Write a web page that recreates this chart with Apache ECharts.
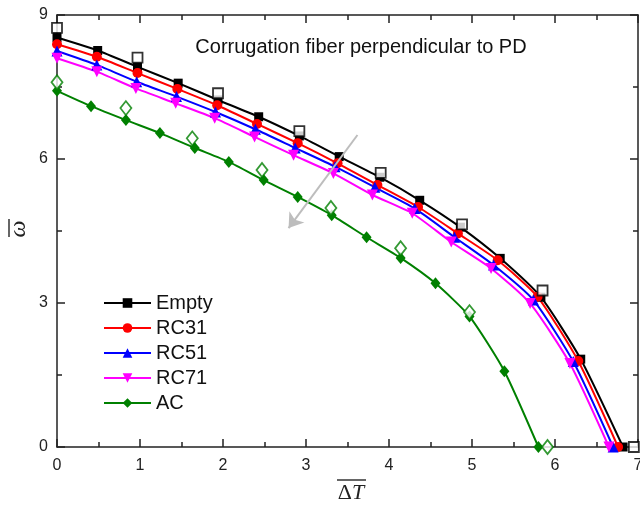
<!DOCTYPE html>
<html>
<head>
<meta charset="utf-8">
<script src="https://cdn.jsdelivr.net/npm/echarts@6/dist/echarts.min.js"></script>
<style>html,body{margin:0;padding:0;background:#fff;}#c{width:640px;height:507px;}</style>
</head>
<body>
<div id="c"></div>
<script>
// ---- data ----
const emptyX = [0, 0.49, 0.97, 1.46, 1.94, 2.43, 2.92, 3.40, 3.89, 4.37, 4.86, 5.34, 5.83, 6.31, 6.82];
const emptyY = [8.53, 8.26, 7.92, 7.58, 7.23, 6.88, 6.48, 6.05, 5.62, 5.14, 4.58, 3.93, 3.12, 1.83, 0];
const rc31X = [0, 0.48, 0.97, 1.45, 1.93, 2.41, 2.90, 3.38, 3.86, 4.35, 4.83, 5.31, 5.79, 6.28, 6.76];
const rc31Y = [8.39, 8.13, 7.79, 7.46, 7.12, 6.73, 6.33, 5.91, 5.46, 5.00, 4.45, 3.89, 3.13, 1.79, 0];
const rc51X = [0, 0.48, 0.96, 1.44, 1.91, 2.39, 2.87, 3.35, 3.83, 4.31, 4.79, 5.26, 5.74, 6.22, 6.70];
const rc51Y = [8.25, 7.96, 7.61, 7.30, 6.98, 6.62, 6.23, 5.84, 5.41, 4.97, 4.37, 3.79, 3.06, 1.78, 0];
const rc71X = [0, 0.48, 0.95, 1.43, 1.90, 2.38, 2.85, 3.33, 3.80, 4.28, 4.75, 5.23, 5.70, 6.18, 6.65];
const rc71Y = [8.10, 7.82, 7.47, 7.16, 6.85, 6.46, 6.08, 5.70, 5.25, 4.87, 4.27, 3.72, 2.99, 1.74, 0];
const acX = [0, 0.41, 0.83, 1.24, 1.66, 2.07, 2.49, 2.90, 3.31, 3.73, 4.14, 4.56, 4.97, 5.39, 5.80];
const acY = [7.42, 7.10, 6.81, 6.54, 6.23, 5.94, 5.56, 5.21, 4.83, 4.37, 3.94, 3.41, 2.72, 1.58, 0];
// open symbols (reference results, not in legend)
const emptyOpenX = [0, 0.97, 1.94, 2.92, 3.90, 4.88, 5.85, 6.95];
const emptyOpenY = [8.73, 8.11, 7.37, 6.58, 5.71, 4.64, 3.26, 0];
const acOpenX = [0, 0.83, 1.63, 2.47, 3.30, 4.14, 4.97, 5.91];
const acOpenY = [7.60, 7.06, 6.43, 5.77, 4.98, 4.14, 2.81, 0];
// arrow (data coords)
const arrowFrom = [3.62, 6.50];
const arrowTo = [2.79, 4.56];
const seriesNames = ['Empty', 'RC31', 'RC51', 'RC71', 'AC'];
const xTicks = {min: 0, max: 7, interval: 1};
const yTicks = {min: 0, max: 9, interval: 3};
const titleText = 'Corrugation fiber perpendicular to PD';

const zip = (xs, ys) => xs.map((x, i) => [x, ys[i]]);
const SANS = '"Liberation Sans", Arial, sans-serif';
const SERIF = '"Liberation Serif", "Times New Roman", serif';

function lineSeries(name, xs, ys, color, symbol, size, rotate) {
  return {
    name, type: 'line', data: zip(xs, ys),
    smooth: 0.2,
    symbol, symbolSize: size, symbolRotate: rotate || 0, showSymbol: true,
    lineStyle: {color, width: 2},
    itemStyle: {color, borderWidth: 0},
    z: 3
  };
}

const axisCommon = (t) => ({
  type: 'value', min: t.min, max: t.max, interval: t.interval,
  axisLine: {show: true, onZero: false, lineStyle: {color: '#222', width: 1.5}},
  axisTick: {show: true, inside: true, length: 8, lineStyle: {color: '#222', width: 1.5}},
  minorTick: {show: true, splitNumber: 2, length: 5, lineStyle: {color: '#222', width: 1.5}},
  splitLine: {show: false},
  axisLabel: {fontSize: 16, color: '#222', fontFamily: SANS}
});

const chart = echarts.init(document.getElementById('c'), null, {renderer: 'canvas'});
chart.setOption({
  animation: false,
  backgroundColor: '#fff',
  grid: {left: 57, right: 2, top: 15, bottom: 60, outerBoundsMode: 'none', containLabel: false},
  xAxis: [
    Object.assign(axisCommon(xTicks), {position: 'bottom', axisLabel: {fontSize: 16, color: '#222', fontFamily: SANS, margin: 11}}),
    Object.assign(axisCommon(xTicks), {position: 'top', axisLabel: {show: false}})
  ],
  yAxis: [
    Object.assign(axisCommon(yTicks), {position: 'left', axisLabel: {fontSize: 16, color: '#222', fontFamily: SANS, margin: 9}}),
    Object.assign(axisCommon(yTicks), {position: 'right', axisLabel: {show: false}})
  ],
  legend: {
    data: seriesNames, orient: 'vertical', left: 98, top: 288,
    itemWidth: 47, itemHeight: 12, itemGap: 5,
    textStyle: {fontSize: 20, fontFamily: SANS, color: '#111', lineHeight: 20}
  },
  series: [
    lineSeries('Empty', emptyX, emptyY, '#000000', 'rect', 9),
    lineSeries('RC31', rc31X, rc31Y, '#ff0000', 'circle', 10),
    lineSeries('RC51', rc51X, rc51Y, '#0000ff', 'triangle', 11),
    lineSeries('RC71', rc71X, rc71Y, '#ff00ff', 'triangle', 11, 180),
    lineSeries('AC', acX, acY, '#008000', 'diamond', [10, 12]),
    {
      name: 'EmptyRef', type: 'scatter', data: zip(emptyOpenX, emptyOpenY),
      symbol: 'rect', symbolSize: 10, clip: false,
      itemStyle: {color: '#ffffff', borderColor: '#000000', borderWidth: 1.8}, z: 4
    },
    {
      name: 'ACRef', type: 'scatter', data: zip(acOpenX, acOpenY),
      symbol: 'diamond', symbolSize: [11, 14], clip: false,
      itemStyle: {color: '#ffffff', borderColor: '#008000', borderWidth: 1.8}, z: 4
    },
    {
      name: 'arrow', type: 'line', data: [], z: 5,
      markLine: {
        silent: true, symbol: ['none', 'arrow'], symbolSize: 14,
        label: {show: false},
        lineStyle: {color: '#bdbdbd', width: 2, type: 'solid'},
        itemStyle: {color: '#bdbdbd'},
        data: [[{coord: arrowFrom}, {coord: arrowTo}]]
      }
    }
  ],
  graphic: [
    {type: 'text', style: {text: titleText, x: 361, y: 47, align: 'center', verticalAlign: 'middle', font: '20px ' + SANS, fill: '#111'}},
    {type: 'text', style: {
      text: '{a|Δ}{b|T}', x: 351, y: 493, align: 'center', verticalAlign: 'middle',
      rich: {a: {fontFamily: SERIF, fontSize: 22, fill: '#222'}, b: {fontFamily: SERIF, fontSize: 22, fontStyle: 'italic', fill: '#222'}}
    }},
    {type: 'line', shape: {x1: 337, y1: 480, x2: 366, y2: 480}, style: {stroke: '#333', lineWidth: 1.5}},
    {type: 'text', rotation: Math.PI / 2, x: 19, y: 229, style: {
      text: 'ω', x: 0, y: 0, align: 'center', verticalAlign: 'middle',
      font: 'italic 24px ' + SERIF, fill: '#222'
    }},
    {type: 'line', shape: {x1: 9, y1: 219, x2: 9, y2: 237}, style: {stroke: '#333', lineWidth: 1.5}}
  ]
});
</script>
</body>
</html>
